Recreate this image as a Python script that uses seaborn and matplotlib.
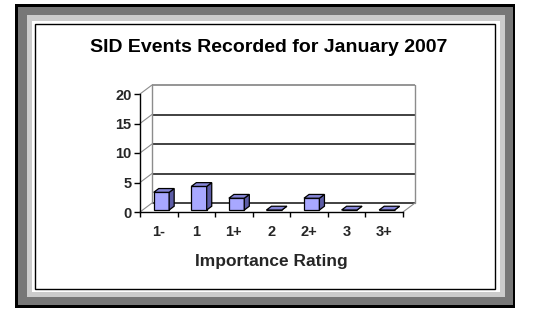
import matplotlib
matplotlib.use("Agg")
import matplotlib.pyplot as plt
from matplotlib.patches import Rectangle, Polygon
import seaborn as sns
import pandas as pd

categories = ["1-", "1", "1+", "2", "2+", "3", "3+"]
counts = [3, 4, 2, 0, 2, 0, 0]
title = "SID Events Recorded for January 2007"
xlabel = "Importance Rating"
yticks = [0, 5, 10, 15, 20]

sns.set_theme(style="white")
plt.rcParams["font.family"] = ["Liberation Sans", "DejaVu Sans"]
plt.rcParams["font.weight"] = "bold"

W, H = 544, 310
fig = plt.figure(figsize=(W / 100, H / 100), dpi=100)
fig.patch.set_facecolor("white")


def frect(x0, y0, x1, y1, **kw):
    """Rectangle from pixel coords (top-left origin) in figure fraction."""
    r = Rectangle((x0 / W, 1 - y1 / H), (x1 - x0) / W, (y1 - y0) / H,
                  transform=fig.transFigure, **kw)
    fig.add_artist(r)
    return r


# decorative frame
frect(15, 4, 515, 307.5, facecolor="black", edgecolor="none", zorder=0)
frect(17.5, 6.5, 512.5, 305, facecolor="#777777", edgecolor="none", zorder=0)
frect(27, 15, 505, 297, facecolor="#cccccc", edgecolor="none", zorder=0)
frect(32, 20.5, 500, 292, facecolor="white", edgecolor="none", zorder=0)
frect(35, 24, 495, 288.5, facecolor="white", edgecolor="black", lw=1.0, zorder=0)

# axes: front face of the 3D box
x_left, x_right, y_top, y_bot = 140, 403, 94, 212
ax = fig.add_axes([x_left / W, 1 - y_bot / H, (x_right - x_left) / W, (y_bot - y_top) / H])
ax.patch.set_alpha(0)
n = len(categories)
ax.set_xlim(-0.5, n - 0.5)
ax.set_ylim(0, 20)

# depth vector in data units (12 px right, 9 px up)
px_per_x = (x_right - x_left) / n
px_per_y = (y_bot - y_top) / 20
DX, DY = 12 / px_per_x, 9 / px_per_y

wall_col = "#8c8c8c"
grid_col = "#333333"
x0, x1 = -0.5, n - 0.5
# back wall gridlines
for yv in yticks:
    col = wall_col if yv == 20 else grid_col
    ax.plot([x0 + DX, x1 + DX], [yv + DY, yv + DY], color=col, lw=1.3,
            clip_on=False, zorder=1, solid_capstyle="butt")
    # diagonal from front axis to back wall
    ax.plot([x0, x0 + DX], [yv, yv + DY], color=wall_col, lw=0.8,
            clip_on=False, zorder=1)
# back wall vertical edges
ax.plot([x0 + DX, x0 + DX], [DY, 20 + DY], color=wall_col, lw=1.0, clip_on=False, zorder=1)
ax.plot([x1 + DX, x1 + DX], [DY, 20 + DY], color=wall_col, lw=1.0, clip_on=False, zorder=1)
# floor right edge
ax.plot([x1, x1 + DX], [0, DY], color=wall_col, lw=0.8, clip_on=False, zorder=1)

# bars
df = pd.DataFrame({"rating": categories, "count": counts})
front_col = "#a8a8ff"
side_col = "#5c5ca6"
top_col = "#8686d8"
bw = 0.41
sns.barplot(data=df, x="rating", y="count", order=categories, ax=ax,
            color=front_col, saturation=1, width=bw, edgecolor="black",
            linewidth=0.9, zorder=3)
fx, fy = 0.22 * DX, 0.22 * DY
bx, by = 0.42 * DX, 0.42 * DY
for p in list(ax.patches):
    x = p.get_x()
    w = p.get_width()
    h = p.get_height()
    p.set_x(x + fx)
    p.set_y(fy)
    p.set_clip_on(False)
    xa, xb = x + fx, x + w + fx
    ya, yb = fy, h + fy
    side = Polygon([(xb, ya), (xb + bx, ya + by), (xb + bx, yb + by), (xb, yb)],
                   closed=True, facecolor=side_col, edgecolor="black", lw=0.9,
                   clip_on=False, zorder=3)
    top = Polygon([(xa, yb), (xb, yb), (xb + bx, yb + by), (xa + bx, yb + by)],
                  closed=True, facecolor=top_col, edgecolor="black", lw=0.9,
                  clip_on=False, zorder=3)
    ax.add_patch(side)
    ax.add_patch(top)

# spines / ticks
for s in ["top", "right"]:
    ax.spines[s].set_visible(False)
for s in ["left", "bottom"]:
    ax.spines[s].set_color("black")
    ax.spines[s].set_linewidth(1.0)
    ax.spines[s].set_zorder(4)
ax.set_yticks(yticks)
ax.set_yticklabels([str(v) for v in yticks], fontsize=10.5, fontweight="bold")
ax.tick_params(axis="y", length=4, width=1, color="black", pad=2, left=True)
ax.set_xticks(range(n))
ax.set_xticklabels(categories, fontsize=10.5, fontweight="bold")
ax.set_xticks([i - 0.5 for i in range(n + 1)], minor=True)
ax.tick_params(axis="x", which="major", length=0, pad=9)
ax.tick_params(axis="x", which="minor", length=3.5, width=1, color="black", bottom=True)
ax.set_xlabel(xlabel, fontsize=12.5, fontweight="bold", labelpad=11)
ax.set_ylabel("")

fig.text(268.5 / W, 1 - 47 / H, title, ha="center", va="center",
         fontsize=14, fontweight="bold", color="black")

fig.savefig("out.png", dpi=100)
